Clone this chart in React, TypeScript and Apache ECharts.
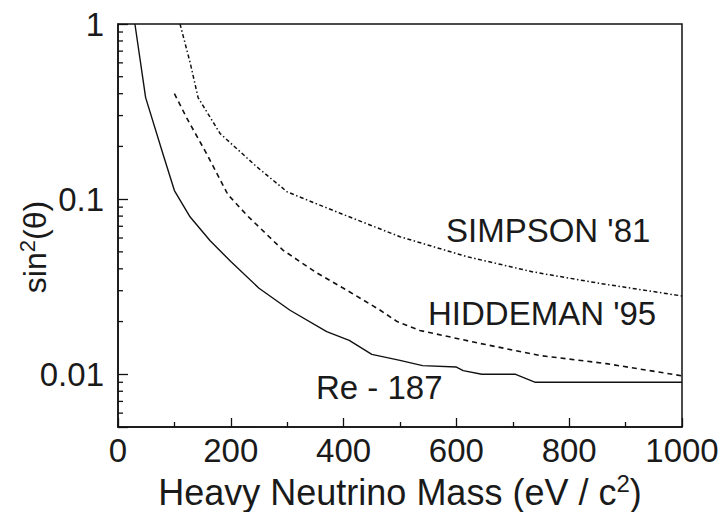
import React, { useEffect, useRef } from "react";
import * as echarts from "echarts";

const reMass = [30, 49, 80, 100, 128, 163, 200, 250, 305, 370, 410, 450, 500, 540, 600, 612, 645, 705, 740, 1000];
const reVal = [1, 0.38, 0.18, 0.112, 0.079, 0.058, 0.044, 0.031, 0.0232, 0.0175, 0.0156, 0.013, 0.012, 0.0112, 0.011, 0.0105, 0.01, 0.01, 0.009, 0.009];

const hidMass = [100, 122, 157, 195, 230, 293, 352, 411, 465, 495, 535, 642, 748, 866, 1000];
const hidVal = [0.4, 0.29, 0.182, 0.106, 0.08, 0.051, 0.038, 0.0295, 0.0232, 0.02, 0.0178, 0.015, 0.0128, 0.0115, 0.0098];

const simMass = [110, 128, 142, 181, 246, 300, 335, 394, 500, 618, 736, 855, 1000];
const simVal = [1, 0.6, 0.38, 0.237, 0.153, 0.11, 0.099, 0.083, 0.061, 0.047, 0.0384, 0.033, 0.028];

const yMajorLabels = [0.01, 0.1, 1];
const yMinorTicks = [0.006, 0.007, 0.008, 0.009, 0.02, 0.03, 0.04, 0.05, 0.06, 0.07, 0.08, 0.09, 0.2, 0.3, 0.4, 0.5, 0.6, 0.7, 0.8, 0.9];

const seriesNames = ["Re - 187", "HIDDEMAN '95", "SIMPSON '81"];

const FONT = "'Liberation Sans', Arial, Helvetica, sans-serif";
const TXT = "#1a1a1a";

const zip = (a: number[], b: number[]) => a.map((v, i) => [v, b[i]]);

export default function App() {
  const ref = useRef<HTMLDivElement>(null);
  useEffect(() => {
    document.body.style.margin = "0";
    if (!ref.current) return;
    const chart = echarts.init(ref.current, null, { renderer: "svg" });
    chart.setOption({
      animation: false,
      backgroundColor: "#fff",
      textStyle: { fontFamily: FONT },
      grid: {
        left: 118,
        right: 38,
        top: 24,
        bottom: 85,
        containLabel: false,
        outerBoundsMode: "none",
        show: true,
        borderColor: "#111",
        borderWidth: 1.5,
        backgroundColor: "transparent",
      },
      xAxis: {
        type: "value",
        min: 0,
        max: 1000,
        interval: 200,
        axisLine: { show: true, lineStyle: { color: "#111", width: 1.5 } },
        axisTick: { show: true, inside: true, length: 9, lineStyle: { color: "#111", width: 1.3 } },
        minorTick: { show: true, splitNumber: 2, length: 5, lineStyle: { color: "#111", width: 1.3 } },
        splitLine: { show: false },
        axisLabel: { color: TXT, fontSize: 33, margin: 7, fontFamily: FONT, formatter: (v: number) => String(v) },
        name: "Heavy Neutrino Mass (eV / c{sup|2})",
        nameLocation: "middle",
        nameGap: 36,
        nameTextStyle: {
          color: TXT,
          fontSize: 36,
          fontFamily: FONT,
          rich: {
            sup: { fontSize: 24, verticalAlign: "top", padding: [0, 0, 18, 0], color: TXT, fontFamily: FONT },
          },
        },
      },
      yAxis: {
        type: "log",
        logBase: 10,
        min: 0.005,
        max: 1,
        axisLine: { show: true, lineStyle: { color: "#111", width: 1.5 } },
        axisTick: { show: true, inside: true, length: 10, lineStyle: { color: "#111", width: 1.3 } },
        splitLine: { show: false },
        axisLabel: {
          color: TXT,
          fontSize: 33,
          margin: 14,
          fontFamily: FONT,
          formatter: (v: number) => {
            const m = yMajorLabels.find((t) => Math.abs(t - v) / t < 1e-6);
            return m === undefined ? "" : String(m);
          },
        },
      },
      graphic: [
        {
          type: "text",
          x: 35,
          y: 247,
          rotation: Math.PI / 2,
          style: {
            text: "sin{sup|2}(θ)",
            fill: TXT,
            fontSize: 32,
            fontFamily: FONT,
            align: "center",
            verticalAlign: "middle",
            rich: {
              sup: { fontSize: 22, verticalAlign: "top", padding: [0, 0, 16, 0], fill: TXT, fontFamily: FONT },
            },
          },
        },
        {
          type: "text",
          left: 446,
          top: 214,
          style: { text: seriesNames[2], fill: TXT, fontSize: 33, fontFamily: FONT },
        },
        {
          type: "text",
          left: 428,
          top: 297,
          style: { text: seriesNames[1], fill: TXT, fontSize: 33, fontFamily: FONT },
        },
        {
          type: "text",
          left: 316,
          top: 371,
          style: { text: seriesNames[0], fill: TXT, fontSize: 33, fontFamily: FONT },
        },
      ],
      series: [
        {
          name: seriesNames[0],
          type: "line",
          data: zip(reMass, reVal),
          showSymbol: false,
          lineStyle: { color: "#111", width: 1.4, type: "solid" },
        },
        {
          name: seriesNames[1],
          type: "line",
          data: zip(hidMass, hidVal),
          showSymbol: false,
          lineStyle: { color: "#111", width: 1.6, type: [5, 4] },
        },
        {
          name: seriesNames[2],
          type: "line",
          data: zip(simMass, simVal),
          showSymbol: false,
          lineStyle: { color: "#111", width: 1.5, type: [4, 2.5, 1.5, 2.5] },
        },
        {
          type: "custom",
          name: "minorY",
          data: yMinorTicks.map((v) => [0, v]),
          renderItem: (params: any, api: any) => {
            const p = api.coord([0, api.value(1)]);
            return {
              type: "line",
              shape: { x1: p[0], y1: p[1], x2: p[0] + 5, y2: p[1] },
              style: { stroke: "#111", lineWidth: 1.3 },
            };
          },
          silent: true,
        },
      ],
    });
    return () => chart.dispose();
  }, []);
  return <div ref={ref} style={{ width: 720, height: 512 }} />;
}
